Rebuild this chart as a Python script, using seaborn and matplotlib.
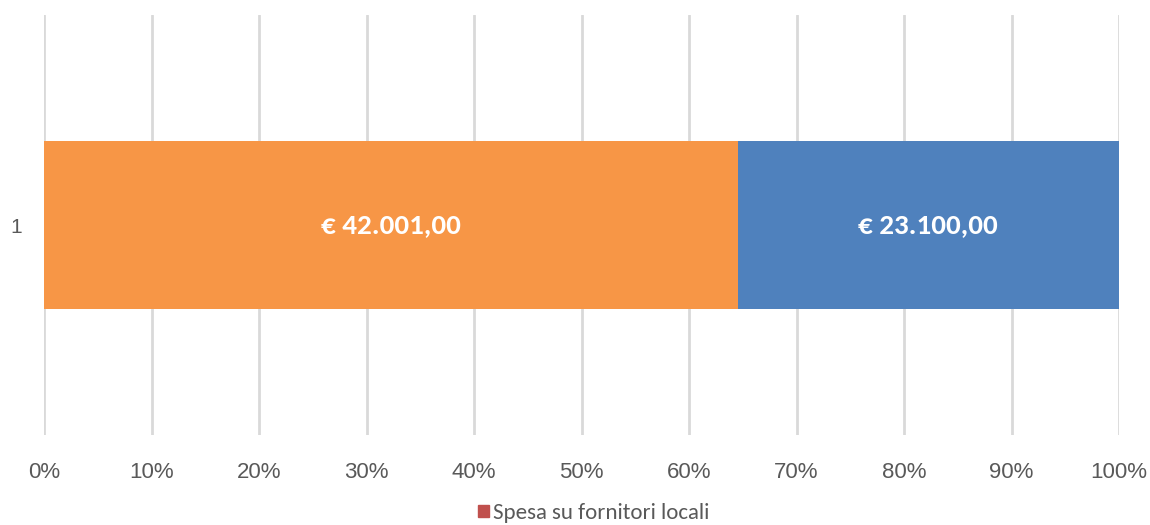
import matplotlib
matplotlib.use('Agg')
import matplotlib.pyplot as plt
import matplotlib.patches as mpatches
import seaborn as sns
import pandas as pd

categories = ['1']
spesa_locali = [42001.00]
spesa_altri = [23100.00]
legend_label = 'Spesa su fornitori locali'
xticks_pct = [0, 10, 20, 30, 40, 50, 60, 70, 80, 90, 100]

sns.set_style('white')
plt.rcParams['font.family'] = ['Liberation Sans', 'DejaVu Sans']

totale = [a + b for a, b in zip(spesa_locali, spesa_altri)]
df = pd.DataFrame({
    'cat': categories,
    'locali_pct': [a / t * 100 for a, t in zip(spesa_locali, totale)],
    'tot_pct': [100.0 for _ in totale],
})

def euro(v):
    s = f'{v:,.2f}'
    s = s.replace(',', 'X').replace('.', ',').replace('X', '.')
    return '€ ' + s

fig = plt.figure(figsize=(11.5, 5.25), dpi=100)
ax = fig.add_axes([0.0383, 0.171, 0.9348, 0.80])

sns.barplot(data=df, x='tot_pct', y='cat', orient='h', color='#4F81BD',
            width=0.4, ax=ax, zorder=3, saturation=1, linewidth=0)
sns.barplot(data=df, x='locali_pct', y='cat', orient='h', color='#F79646',
            width=0.4, ax=ax, zorder=4, saturation=1, linewidth=0)

lab_font = {'family': ['Carlito', 'DejaVu Sans'], 'size': 21, 'weight': 'bold'}
for i, (a, b, p) in enumerate(zip(spesa_locali, spesa_altri, df['locali_pct'])):
    ax.text(p / 2, i, euro(a), ha='center', va='center', color='white',
            fontdict=lab_font, zorder=5)
    ax.text(p + (100 - p) / 2, i, euro(b), ha='center', va='center',
            color='white', fontdict=lab_font, zorder=5)

ax.set_xlim(0, 100)
ax.set_ylim(0.5, -0.5)
ax.set_xticks(xticks_pct)
ax.set_xticklabels([f'{t}%' for t in xticks_pct], fontsize=16, color='#595959')
ax.tick_params(axis='x', length=0, pad=19)
ax.tick_params(axis='y', length=0, pad=16, labelsize=15, labelcolor='#595959')
ax.set_xlabel('')
ax.set_ylabel('')
ax.grid(axis='x', color='#D9D9D9', linewidth=2, zorder=0)
ax.set_axisbelow(True)
for s in ax.spines.values():
    s.set_visible(False)

handle = mpatches.Patch(color='#C0504D', label=legend_label)
fig.legend(handles=[handle], loc='center', bbox_to_anchor=(0.5165, 0.022),
           frameon=False, handlelength=0.45, handleheight=0.45, handletextpad=0.2,
           borderpad=0, prop={'family': ['Carlito', 'DejaVu Sans'], 'size': 16.5},
           labelcolor='#595959')

fig.savefig('out.png', dpi=100)
